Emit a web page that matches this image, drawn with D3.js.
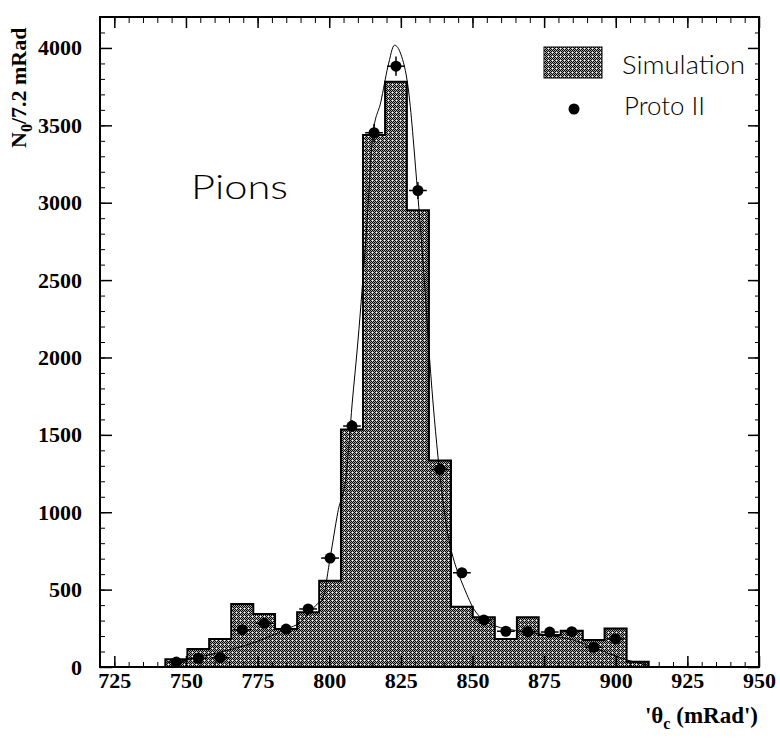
<!DOCTYPE html>
<html><head><meta charset="utf-8">
<script src="https://cdn.jsdelivr.net/npm/d3@7"></script>
<style>body{margin:0;background:#fff}</style>
</head><body>
<script>
// ---- data ----
const binEdges = [742.8, 750.5, 758.1, 765.8, 773.5, 781.1, 788.8, 796.5, 804.1, 811.8, 819.5, 827.1, 834.8, 842.5, 850.1, 857.8, 865.5, 873.1, 880.8, 888.5, 896.1, 903.8, 911.5];
const simCounts = [50, 116, 181, 407, 342, 245, 353, 558, 1535, 3437, 3781, 2952, 1335, 390, 321, 181, 321, 207, 235, 174, 248, 34];
const protoX = [746.65, 754.3, 761.95, 769.65, 777.3, 784.95, 792.65, 800.3, 807.95, 815.65, 823.3, 830.95, 838.65, 846.3, 853.95, 861.65, 869.3, 876.95, 884.65, 892.3, 899.95];
const protoY = [32, 56, 60, 241, 282, 245, 375, 704, 1557, 3452, 3882, 3079, 1277, 609, 304, 231, 228, 226, 228, 127, 181];
const protoYErr = [6, 7, 8, 16, 17, 16, 19, 27, 39, 59, 62, 55, 36, 25, 17, 15, 15, 15, 15, 11, 13];
const protoXErr = 3.1;
const fitX = [746.6, 754, 761, 769, 777, 785, 790, 793, 796, 797.6, 800.3, 803, 806, 808, 810, 813, 815.3, 818, 820.5, 822.8, 825, 827.5, 830.7, 833, 835, 838.4, 841, 844, 846, 848, 850, 853.8, 858, 865, 872, 880, 886, 892, 898, 904, 911.5];
const fitY = [30, 60, 92, 130, 180, 245, 290, 350, 410, 433, 702, 1000, 1250, 1700, 2100, 2820, 3450, 3650, 3880, 4018, 3960, 3750, 3100, 2550, 2000, 1280, 900, 660, 560, 470, 390, 304, 265, 236, 218, 195, 170, 127, 85, 45, 10];
const xTicks = [725, 750, 775, 800, 825, 850, 875, 900, 925, 950];
const yTicks = [0, 500, 1000, 1500, 2000, 2500, 3000, 3500, 4000];
const xMinorTicks = d3.range(720, 951, 5);
const yMinorTicks = d3.range(0, 4201, 100);

// ---- layout ----
const W = 780, H = 740;
const L = 100, R = 759, T = 17, B = 667;
const x = d3.scaleLinear().domain([720, 950]).range([L, R]);
const y = d3.scaleLinear().domain([0, 4200]).range([B, T]);

const svg = d3.select("body").append("svg").attr("width", W).attr("height", H);

// dither pattern (grey checker with light dot grid)
const defs = svg.append("defs");
const pat = defs.append("pattern").attr("id", "dither").attr("patternUnits", "userSpaceOnUse")
  .attr("width", 4).attr("height", 4);
pat.append("rect").attr("width", 4).attr("height", 4).attr("fill", "#a6a6a6").attr("shape-rendering", "crispEdges");
let pd = "";
for (let i = 0; i < 4; i++) for (let j = 0; j < 4; j++) {
  if ((i + j) % 2 === 0 && !(i === 0 && j === 0)) pd += `M${i},${j}h1v1h-1z`;
}
pat.append("path").attr("d", pd).attr("fill", "#000").attr("shape-rendering", "crispEdges");
pat.append("rect").attr("x", 0).attr("y", 0).attr("width", 1).attr("height", 1).attr("fill", "#fff").attr("shape-rendering", "crispEdges");

// histogram
const histPts = [[binEdges[0], 0]];
simCounts.forEach((c, i) => { histPts.push([binEdges[i], c]); histPts.push([binEdges[i + 1], c]); });
histPts.push([binEdges[binEdges.length - 1], 0]);
const line = d3.line().x(d => x(d[0])).y(d => y(d[1]));
svg.append("path").attr("d", line(histPts)).attr("fill", "url(#dither)")
  .attr("stroke", "#000").attr("stroke-width", 2).attr("stroke-linejoin", "miter");

// axes ticks
function tickAxis(axis, tx, ty, sw) {
  const g = svg.append("g").attr("transform", `translate(${tx},${ty})`).call(axis);
  g.select(".domain").remove();
  g.selectAll(".tick line").attr("stroke", "#000").attr("stroke-width", sw);
  return g;
}
const noLab = () => "";
tickAxis(d3.axisBottom(x).tickValues(xMinorTicks).tickSize(-5).tickFormat(noLab), 0, B, 1);
tickAxis(d3.axisTop(x).tickValues(xMinorTicks).tickSize(-6).tickFormat(noLab), 0, T, 1);
tickAxis(d3.axisLeft(y).tickValues(yMinorTicks).tickSize(-5).tickFormat(noLab), L, 0, 1);
tickAxis(d3.axisRight(y).tickValues(yMinorTicks).tickSize(-4).tickFormat(noLab), R, 0, 1);
tickAxis(d3.axisTop(x).tickValues(xTicks).tickSize(-11).tickFormat(noLab), 0, T, 1.5);
tickAxis(d3.axisRight(y).tickValues(yTicks).tickSize(-11).tickFormat(noLab), R, 0, 1.5);
const gx = tickAxis(d3.axisBottom(x).tickValues(xTicks).tickSize(-11).tickPadding(5).tickFormat(d3.format("d")), 0, B, 1.5);
const gy = tickAxis(d3.axisLeft(y).tickValues(yTicks).tickSize(-12).tickPadding(18).tickFormat(d3.format("d")), L, 0, 1.5);
[gx, gy].forEach(g => g.attr("font-size", null).selectAll("text").attr("fill", "#000")
  .style("font-family", "'Liberation Serif', 'Times New Roman', serif")
  .style("font-weight", "bold").style("font-size", "22px"));

// fit curve
const fitLine = d3.line().curve(d3.curveMonotoneX).x((d, i) => x(fitX[i])).y((d, i) => y(fitY[i]));
svg.append("path").attr("d", fitLine(fitX)).attr("fill", "none").attr("stroke", "#000").attr("stroke-width", 1);

// data points
const pts = svg.append("g");
protoX.forEach((px, i) => {
  const cx = x(px), cy = y(protoY[i]);
  pts.append("line").attr("x1", x(px - protoXErr)).attr("x2", x(px + protoXErr)).attr("y1", cy).attr("y2", cy)
    .attr("stroke", "#000").attr("stroke-width", 1.5);
  pts.append("line").attr("x1", cx).attr("x2", cx).attr("y1", y(protoY[i] - protoYErr[i])).attr("y2", y(protoY[i] + protoYErr[i]))
    .attr("stroke", "#000").attr("stroke-width", 1.5);
  pts.append("circle").attr("cx", cx).attr("cy", cy).attr("r", 5.5).attr("fill", "#000");
});

// frame
svg.append("rect").attr("x", L).attr("y", T).attr("width", R - L).attr("height", B - T)
  .attr("fill", "none").attr("stroke", "#000").attr("stroke-width", 2);

// legend
const sans = "Lato, 'Open Sans', 'DejaVu Sans', sans-serif";
svg.append("rect").attr("x", 544).attr("y", 47).attr("width", 58).attr("height", 31)
  .attr("fill", "url(#dither)").attr("stroke", "#000").attr("stroke-width", 1);
svg.append("text").attr("x", 622).attr("y", 74).attr("textLength", 123).attr("lengthAdjust", "spacingAndGlyphs")
  .style("font-family", sans).style("font-weight", 300).style("font-size", "26px").text("Simulation");
svg.append("circle").attr("cx", 574).attr("cy", 109).attr("r", 5.5).attr("fill", "#000");
svg.append("text").attr("x", 624).attr("y", 115).attr("textLength", 81).attr("lengthAdjust", "spacingAndGlyphs")
  .style("font-family", sans).style("font-weight", 300).style("font-size", "26px").text("Proto II");

// annotation
svg.append("text").attr("x", 191).attr("y", 199).attr("textLength", 97).attr("lengthAdjust", "spacingAndGlyphs")
  .style("font-family", sans).style("font-weight", 300).style("font-size", "33px").text("Pions");

// axis titles
const serif = "'Liberation Serif', 'Times New Roman', serif";
const yt = svg.append("text").attr("transform", "translate(26,148) rotate(-90)")
  .style("font-family", serif).style("font-weight", "bold").style("font-size", "22px");
yt.append("tspan").text("N");
yt.append("tspan").attr("dy", 6).style("font-size", "16px").text("0");
yt.append("tspan").attr("dy", -6).text("/7.2 mRad");

const xt = svg.append("text").attr("x", 758).attr("y", 723).attr("text-anchor", "end")
  .style("font-family", serif).style("font-weight", "bold").style("font-size", "23px");
xt.append("tspan").text("'θ");
xt.append("tspan").attr("dy", 6).style("font-size", "16px").text("c");
xt.append("tspan").attr("dy", -6).text(" (mRad')");
</script>
</body></html>
